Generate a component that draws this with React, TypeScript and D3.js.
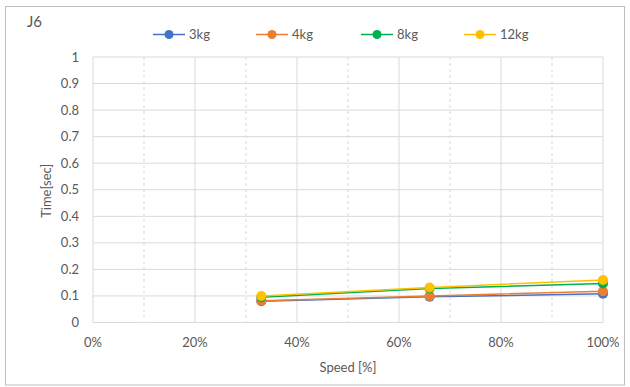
import React from "react";
import * as d3 from "d3";

const speeds = [0.33, 0.66, 1.0];
const seriesNames = ["3kg", "4kg", "8kg", "12kg"];
const seriesColors = ["#4472C4", "#ED7D31", "#00B050", "#FFC000"];
const s3kg = [0.08, 0.097, 0.108];
const s4kg = [0.082, 0.1, 0.118];
const s8kg = [0.095, 0.128, 0.147];
const s12kg = [0.1, 0.132, 0.16];
const seriesValues = [s3kg, s4kg, s8kg, s12kg];
const yTicks = [0, 0.1, 0.2, 0.3, 0.4, 0.5, 0.6, 0.7, 0.8, 0.9, 1];
const xMajor = [0, 0.2, 0.4, 0.6, 0.8, 1];
const xMinor = [0.1, 0.3, 0.5, 0.7, 0.9];

export default function App() {
  const W = 630, H = 387;
  const x = d3.scaleLinear().domain([0, 1]).range([93, 603]);
  const y = d3.scaleLinear().domain([0, 1]).range([322.5, 57]);
  const font = "Lato, 'Open Sans', sans-serif";
  const txt = "#595959";
  const line = d3.line<number>().x((_, i) => x(speeds[i])).y((d) => y(d));
  const legendX = [153, 256, 361, 464];
  return (
    <svg width={W} height={H} style={{ position: "absolute", left: 0, top: 0 }} fontFamily={font}>
      <rect x={0} y={0} width={W} height={H} fill="#fff" />
      <rect x={5.5} y={6.5} width={619} height={378.5} fill="none" stroke="#BFBFBF" strokeWidth={1} />
      <text x={27} y={27} fontSize={15} fill={txt}>J6</text>
      {xMinor.map((t) => (
        <line key={"mn" + t} x1={x(t)} x2={x(t)} y1={y(1)} y2={y(0)} stroke="#D9D9D9" strokeDasharray="3,3" strokeWidth={1} />
      ))}
      {xMajor.map((t) => (
        <line key={"mj" + t} x1={x(t)} x2={x(t)} y1={y(1)} y2={y(0)} stroke="#D9D9D9" strokeWidth={1} />
      ))}
      {yTicks.map((t) => (
        <line key={"yg" + t} x1={x(0)} x2={x(1)} y1={y(t)} y2={y(t)} stroke="#D9D9D9" strokeWidth={1} />
      ))}
      {yTicks.map((t) => (
        <text key={"yt" + t} x={79} y={y(t) + 4.5} fontSize={13} fill={txt} textAnchor="end">{d3.format("~g")(t)}</text>
      ))}
      {xMajor.map((t) => (
        <text key={"xt" + t} x={x(t)} y={347} fontSize={13} fill={txt} textAnchor="middle">{Math.round(t * 100) + "%"}</text>
      ))}
      <text x={348} y={372} fontSize={13} fill={txt} textAnchor="middle">Speed [%]</text>
      <text transform={`translate(51,${y(0.5) + 1}) rotate(-90)`} fontSize={13} fill={txt} textAnchor="middle">Time[sec]</text>
      {seriesValues.map((vals, si) => (
        <g key={"s" + si}>
          <path d={line(vals) || ""} fill="none" stroke={seriesColors[si]} strokeWidth={1.5} />
          {vals.map((v, i) => (
            <circle key={i} cx={x(speeds[i])} cy={y(v)} r={5} fill={seriesColors[si]} />
          ))}
        </g>
      ))}
      {seriesNames.map((n, i) => (
        <g key={"lg" + n}>
          <line x1={legendX[i]} x2={legendX[i] + 32} y1={34.5} y2={34.5} stroke={seriesColors[i]} strokeWidth={1.5} />
          <circle cx={legendX[i] + 16} cy={34.5} r={4.5} fill={seriesColors[i]} />
          <text x={legendX[i] + 36} y={39} fontSize={13} fill={txt}>{n}</text>
        </g>
      ))}
    </svg>
  );
}
